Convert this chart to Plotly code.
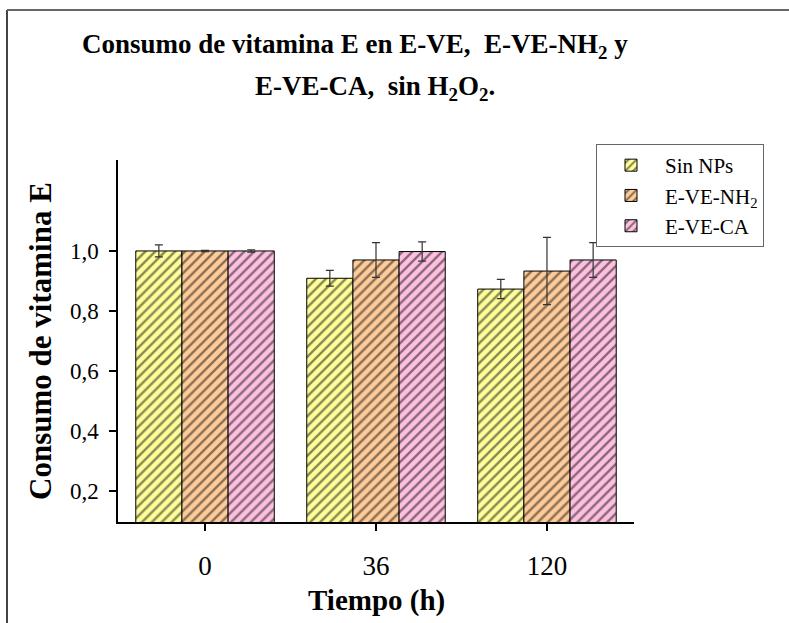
import plotly.graph_objects as go

categories = ["0", "36", "120"]
series_names = ["Sin NPs", "E-VE-NH<sub>2</sub>", "E-VE-CA"]
sin_nps = [1.000, 0.909, 0.873]
sin_nps_err = [0.020, 0.026, 0.032]
e_ve_nh2 = [1.000, 0.970, 0.933]
e_ve_nh2_err = [0.002, 0.058, 0.112]
e_ve_ca = [1.000, 0.998, 0.970]
e_ve_ca_err = [0.004, 0.032, 0.058]
colors = ["#FFFF99", "#FFCC99", "#FFC0E0"]
y_ticks = [0.2, 0.4, 0.6, 0.8, 1.0]

W, H = 789, 623
L, R, T, B = 118, 634, 160, 522

def px(x):
    return (x - L) / (R - L)

def py(y):
    return (B - y) / (B - T)

FONT = "Liberation Serif"

fig = go.Figure()
for name, vals, errs, col in zip(series_names,
                                 [sin_nps, e_ve_nh2, e_ve_ca],
                                 [sin_nps_err, e_ve_nh2_err, e_ve_ca_err],
                                 colors):
    fig.add_trace(go.Bar(
        x=categories, y=vals, name=name,
        marker=dict(color=col, line=dict(color="black", width=1),
                    pattern=dict(shape="/", fgcolor="#111111", bgcolor=col,
                                 size=7, solidity=0.35, fillmode="overlay")),
        error_y=dict(type="data", array=errs, visible=True,
                     color="#333333", thickness=1.2, width=4),
    ))

fig.update_layout(
    width=W, height=H,
    margin=dict(l=L, r=W - R, t=T, b=H - B),
    paper_bgcolor="white", plot_bgcolor="white",
    barmode="group", bargap=0.19, bargroupgap=0,
    separators=", ",
    font=dict(family=FONT, color="black"),
    showlegend=True,
    legend=dict(x=px(596), y=py(144), xanchor="left", yanchor="top",
                bordercolor="#666666", borderwidth=1,
                font=dict(family=FONT, size=21, color="black"),
                bgcolor="white", tracegroupgap=0, itemwidth=58),
    xaxis=dict(type="category", range=[-0.509, 2.509],
               showline=True, linecolor="black", linewidth=1.5,
               ticks="outside", ticklen=7, tickcolor="black", tickwidth=1.5,
               tickfont=dict(family=FONT, size=27, color="black"),
               ticklabelstandoff=12,
               showgrid=False, zeroline=False),
    yaxis=dict(range=[0.097, 1.303],
               tickvals=y_ticks, tickformat=".1f",
               showline=True, linecolor="black", linewidth=1.5,
               ticks="outside", ticklen=7, tickcolor="black", tickwidth=1.5,
               tickfont=dict(family=FONT, size=23, color="black"),
               ticklabelstandoff=6,
               showgrid=False, zeroline=False,
               title=dict(text="<b>Consumo de vitamina E</b>", standoff=9,
                          font=dict(family=FONT, size=31, color="black"))),
)

fig.add_annotation(x=px(376), y=py(600), xref="paper", yref="paper",
                   text="<b>Tiempo (h)</b>",
                   showarrow=False, xanchor="center", yanchor="middle",
                   font=dict(family=FONT, size=29, color="black"))

fig.add_annotation(x=px(355), y=py(46), xref="paper", yref="paper",
                   text="<b>Consumo de vitamina E en E-VE,  E-VE-NH<sub>2</sub> y</b>",
                   showarrow=False, xanchor="center", yanchor="middle",
                   font=dict(family=FONT, size=27, color="black"))
fig.add_annotation(x=px(375), y=py(88), xref="paper", yref="paper",
                   text="<b>E-VE-CA,  sin H<sub>2</sub>O<sub>2</sub>.</b>",
                   showarrow=False, xanchor="center", yanchor="middle",
                   font=dict(family=FONT, size=27, color="black"))

# outer frame (left and top edges)
fig.add_shape(type="line", xref="paper", yref="paper",
              x0=px(7), x1=px(7), y0=py(10), y1=py(H + 5),
              line=dict(color="#444444", width=2))
fig.add_shape(type="line", xref="paper", yref="paper",
              x0=px(7), x1=px(W + 5), y0=py(10), y1=py(10),
              line=dict(color="#666666", width=2))

fig.write_html("out.html")
